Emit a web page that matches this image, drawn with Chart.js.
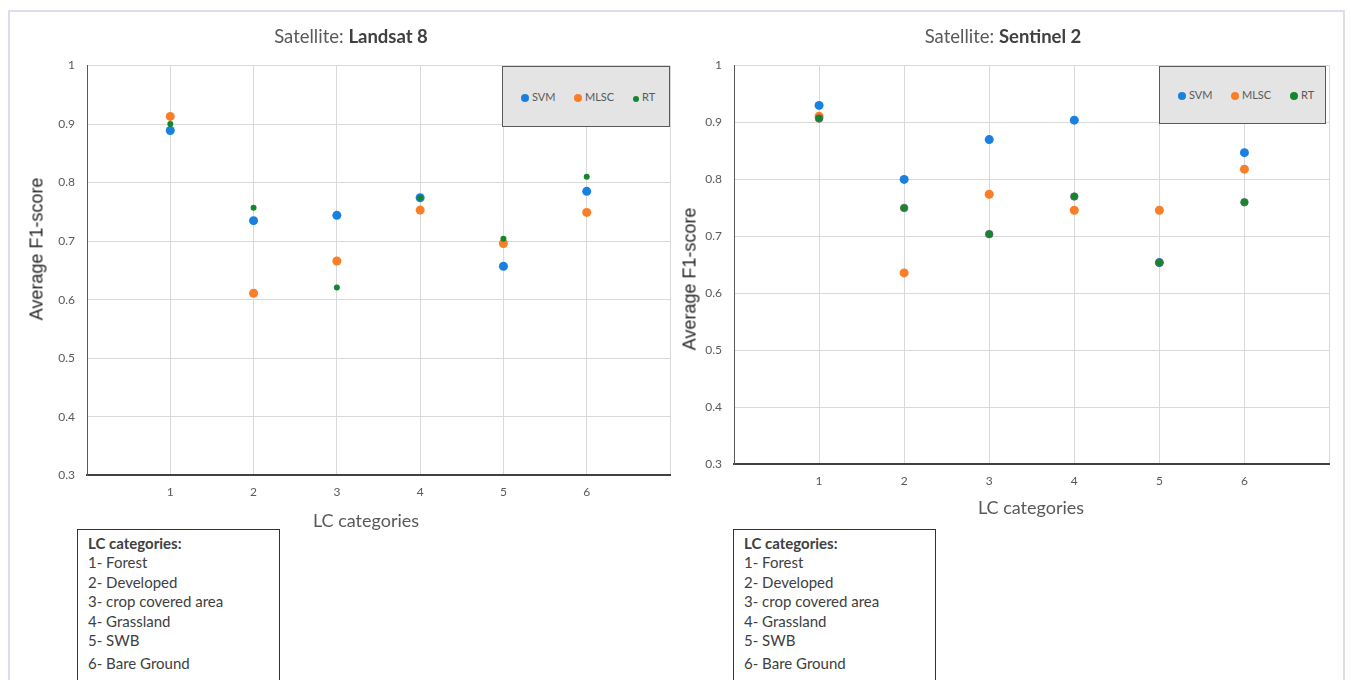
<!DOCTYPE html>
<html>
<head>
<meta charset="utf-8">
<script src="https://cdn.jsdelivr.net/npm/chart.js@4.4.0/dist/chart.umd.min.js"></script>
<style>
  body { margin: 0; background: #fff; width: 1351px; height: 680px; overflow: hidden; position: relative; font-family: Lato, "Open Sans", sans-serif; }
  .frame { position: absolute; left: 8px; top: 10px; width: 1333px; height: 700px; border: 2px solid #dcdcec; }
  canvas { position: absolute; top: 0; }
  .title { position: absolute; width: 400px; text-align: center; font-size: 18.5px; line-height: 20px; color: #595959; }
  .title b { color: #404040; }
  .xtitle { position: absolute; width: 300px; text-align: center; font-size: 18px; line-height: 20px; color: #595959; }
  .ytitle { position: absolute; white-space: nowrap; font-family: "Liberation Sans", Arial, sans-serif; font-size: 18px; color: #262626; transform: translate(-50%, -50%) rotate(-90deg); }
  .legend { position: absolute; top: 66px; height: 60px; background: #e4e4e4; border: 1px solid #595959; box-sizing: border-box; }
  .item { position: absolute; font-size: 11px; line-height: 12px; color: #595959; white-space: nowrap; }
  .dot { display: inline-block; border-radius: 50%; vertical-align: -1px; margin-right: 3px; }
  .catbox { position: absolute; top: 529px; width: 203px; height: 170px; border: 1.5px solid #333; box-sizing: border-box; padding: 4px 0 0 10px; font-size: 15px; line-height: 19.4px; color: #404040; background: #fff; }
  .catbox div:last-child { margin-top: 4px; }
</style>
</head>
<body>
<div class="frame"></div>
<canvas id="landsat" width="680" height="520" style="left:0"></canvas>
<canvas id="sentinel" width="671" height="520" style="left:680px"></canvas>

<div class="title" style="left:151px; top:26px">Satellite: <b>Landsat 8</b></div>
<div class="title" style="left:803px; top:26px">Satellite: <b>Sentinel 2</b></div>
<div class="xtitle" style="left:216px; top:510px">LC categories</div>
<div class="xtitle" style="left:881px; top:497px">LC categories</div>
<div class="ytitle" style="left:37px; top:249px">Average F1-score</div>
<div class="ytitle" style="left:690px; top:279px">Average F1-score</div>

<div class="legend" id="legLandsat" style="left:502px; width:168px; height:61px"></div>
<div class="legend" id="legSentinel" style="left:1159px; width:167px; height:58px"></div>

<div class="catbox" id="boxLandsat" style="left:77px"></div>
<div class="catbox" id="boxSentinel" style="left:733px"></div>

<script>
const categories = [1, 2, 3, 4, 5, 6];
const lcNames = ["Forest", "Developed", "crop covered area", "Grassland", "SWB", "Bare Ground"];
const seriesNames = ["SVM", "MLSC", "RT"];

// Landsat 8
const landsatSVM = [0.889, 0.735, 0.744, 0.774, 0.657, 0.785];
const landsatMLSC = [0.913, 0.611, 0.666, 0.753, 0.696, 0.749];
const landsatRT = [0.900, 0.757, 0.621, 0.774, 0.704, 0.810];

// Sentinel 2
const sentinelSVM = [0.930, 0.800, 0.870, 0.904, 0.654, 0.847];
const sentinelMLSC = [0.911, 0.636, 0.774, 0.746, 0.746, 0.818];
const sentinelRT = [0.907, 0.750, 0.704, 0.770, 0.654, 0.760];

const yMin = 0.3, yMax = 1, yStep = 0.1;

const colors = ["#1a80e0", "#fa7d28", "#14872d"];

function pts(vals) {
  return categories.map((c, i) => ({ x: c, y: vals[i] }));
}

function drawPanel(id, vals, g) {
  const ctx = document.getElementById(id).getContext("2d");
  new Chart(ctx, {
    type: "scatter",
    data: {
      datasets: [
        { label: "SVM", data: pts(vals[0]), backgroundColor: colors[0], borderColor: colors[0], borderWidth: 0, pointRadius: 4.5, order: 2 },
        { label: "MLSC", data: pts(vals[1]), backgroundColor: colors[1], borderColor: colors[1], borderWidth: 0, pointRadius: 4.5, order: 1 },
        { label: "RT", data: pts(vals[2]), backgroundColor: colors[2], borderColor: g.rtBorder, borderWidth: g.rtBorderWidth, pointRadius: g.rtRadius, order: 0 },
      ],
    },
    options: {
      responsive: false,
      animation: false,
      layout: { padding: { top: 65.5, right: g.right, left: 0, bottom: 0 } },
      plugins: { legend: { display: false }, tooltip: { enabled: false } },
      scales: {
        x: {
          type: "linear",
          min: 0,
          max: 7,
          ticks: {
            stepSize: 1,
            autoSkip: false,
            maxRotation: 0,
            padding: 10,
            color: "#595959",
            font: { family: "Lato", size: 12 },
            callback: (v) => (v >= 1 && v <= 6 ? v : ""),
          },
          grid: { color: "#d9d9d9", drawTicks: false },
          border: { color: "#404040", width: 2 },
          afterFit: (s) => { s.height = g.xh; },
        },
        y: {
          min: yMin,
          max: yMax,
          ticks: {
            stepSize: yStep,
            padding: 12,
            color: "#595959",
            font: { family: "Lato", size: 12 },
            callback: (v) => +v.toFixed(1),
          },
          grid: { color: "#d9d9d9", drawTicks: false },
          border: { color: "#595959", width: 1 },
          afterFit: (s) => { s.width = g.yw; },
        },
      },
    },
  });
}

drawPanel("landsat", [landsatSVM, landsatMLSC, landsatRT],
  { right: 10, xh: 44.7, yw: 87, rtRadius: 3, rtBorder: colors[2], rtBorderWidth: 0 });
drawPanel("sentinel", [sentinelSVM, sentinelMLSC, sentinelRT],
  { right: 21.5, xh: 55.7, yw: 54, rtRadius: 3.8, rtBorder: "rgba(95,95,95,0.75)", rtBorderWidth: 1 });

// legends inside the plots
function fillLegend(id, dotX, top, leftEdge, rtSmall) {
  const el = document.getElementById(id);
  seriesNames.forEach((name, i) => {
    const r = (i === 2 && rtSmall) ? 3 : 4;
    const item = document.createElement("span");
    item.className = "item";
    item.style.left = (dotX[i] - leftEdge - r) + "px";
    item.style.top = top + "px";
    item.innerHTML = `<span class="dot" style="width:${2 * r}px;height:${2 * r}px;background:${colors[i]}"></span>${name}`;
    el.appendChild(item);
  });
}
fillLegend("legLandsat", [524, 577, 635], 24, 502, true);
fillLegend("legSentinel", [1181, 1234, 1293], 22, 1159, false);

// LC category boxes
function fillBox(id) {
  const el = document.getElementById(id);
  let html = "<div><b>LC categories:</b></div>";
  categories.forEach((c, i) => { html += `<div>${c}- ${lcNames[i]}</div>`; });
  el.innerHTML = html;
}
fillBox("boxLandsat");
fillBox("boxSentinel");
</script>
</body>
</html>
